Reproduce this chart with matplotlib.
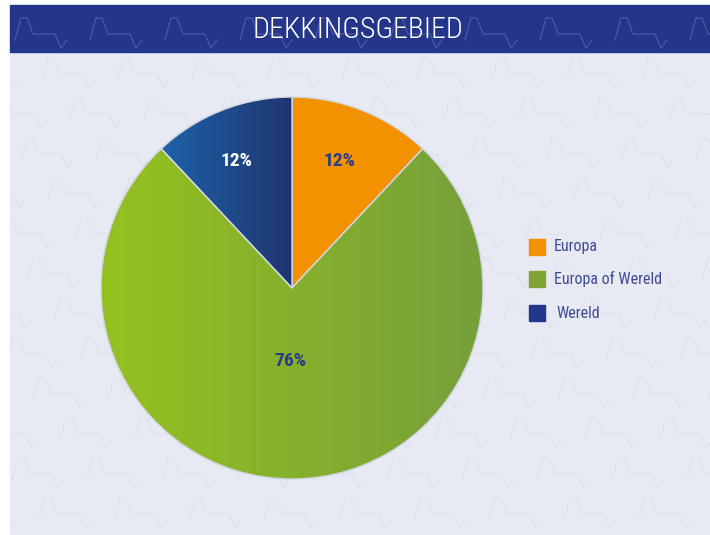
import numpy as np
import matplotlib
matplotlib.use("Agg")
import matplotlib.pyplot as plt
from matplotlib.colors import LinearSegmentedColormap
from matplotlib import font_manager as fm
from matplotlib.patches import Wedge

title = "DEKKINGSGEBIED"
categories = ["Europa", "Europa of Wereld", "Wereld"]
values = [12, 76, 12]
labels = ["12%", "76%", "12%"]

avail = {}
for f in fm.fontManager.ttflist:
    avail.setdefault(f.name, set()).add(f.weight)
prefs = ["Roboto Condensed", "Barlow Semi Condensed", "Asap Condensed",
         "Archivo Narrow", "Liberation Sans Narrow"]
cond = [n for n in prefs if n in avail]
bold_cond = [n for n in cond if any(int(w) >= 700 for w in avail[n] if str(w).isdigit())]
light_cond = [n for n in cond if any(int(w) <= 300 for w in avail[n] if str(w).isdigit())]
font = cond[:1] + ["DejaVu Sans"]
font_b = bold_cond[:1] + ["DejaVu Sans"]
font_l = light_cond[:1] + ["Roboto", "DejaVu Sans"]

W, H = 710, 535
fig = plt.figure(figsize=(W / 100, H / 100), dpi=100)
fig.patch.set_facecolor("white")

bg = fig.add_axes([0, 0, 1, 1])
bg.set_xlim(0, W)
bg.set_ylim(H, 0)
bg.axis("off")
bg.add_patch(plt.Rectangle((10, 52), 700, 483, color="#E8EAF3", zorder=0))
bg.add_patch(plt.Rectangle((10, 5), 700, 47, color="#24368A", zorder=0))

def beat(x0, y0, col, lw, clip):
    xs = np.array([0, 6, 12, 18, 40, 46, 52]) + x0
    ys = np.array([0, -22, -22, -6, -6, 8, 0]) + y0
    ln, = bg.plot(xs, ys, color=col, lw=lw, zorder=1)
    ln.set_clip_path(clip)

clip_panel = plt.Rectangle((10, 52), 700, 483, transform=bg.transData)
clip_head = plt.Rectangle((10, 5), 700, 47, transform=bg.transData)
for row, yy in enumerate(range(40, 560, 40)):
    off = (row * 27) % 75
    for xx in range(-60, 760, 75):
        beat(xx + off, yy, "#DDE0EB", 0.7, clip_panel)
        beat(xx + off, yy, "#4E5CA3", 0.8, clip_head)

bg.text(358, 29.5, title, color="white", fontsize=21.5, ha="center", va="center",
        family=font_l, fontweight="light", zorder=3)

cx, cy, r = 292, 288, 191
ax = fig.add_axes([(cx - r) / W, (H - cy - r) / H, 2 * r / W, 2 * r / H])
ax.set_xlim(-1, 1)
ax.set_ylim(-1, 1)
ax.axis("off")
colors = ["#F39200", "#7EA536", "#24368A"]
wedges, _ = ax.pie(values, colors=colors, startangle=90, counterclock=False,
                   radius=1, wedgeprops=dict(edgecolor="#D3D7E3", linewidth=1.0))

grads = {1: ["#95C11F", "#76A03A"], 2: ["#1D62A8", "#1F3570"]}
grad = np.linspace(0, 1, 256).reshape(1, -1)
for i, (c0, c1) in grads.items():
    cmap = LinearSegmentedColormap.from_list("g%d" % i, [c0, c1])
    verts = wedges[i].get_path().vertices
    xmin, xmax = verts[:, 0].min(), verts[:, 0].max()
    im = ax.imshow(grad, cmap=cmap, extent=[xmin, xmax, -1, 1], aspect="auto",
                   zorder=wedges[i].get_zorder() + 0.1)
    im.set_clip_path(wedges[i])
    ax.add_patch(Wedge(wedges[i].center, wedges[i].r,
                       wedges[i].theta1, wedges[i].theta2, facecolor="none",
                       edgecolor="#D3D7E3", lw=1.0,
                       zorder=wedges[i].get_zorder() + 0.2))
ax.set_xlim(-1, 1)
ax.set_ylim(-1, 1)

label_cols = ["#2A3B87", "#2A3B87", "white"]
pos = [(0.25, 0.665), (-0.01, -0.38), (-0.29, 0.665)]
for (x, y), t, c in zip(pos, labels, label_cols):
    ax.text(x, y, t, color=c, fontsize=14, fontweight="bold", ha="center",
            va="center", family=font_b, zorder=5)

leg_cols = ["#F39200", "#7EA536", "#24368A"]
for k, (name, col) in enumerate(zip(categories, leg_cols)):
    yy = [247, 279, 313][k]
    bg.add_patch(plt.Rectangle((529, yy - 8), 16, 16, color=col, zorder=3))
    bg.text(554 + (2 if k == 2 else 0), yy, name, color="#3F4C93", fontsize=11.5,
            ha="left", va="center", family=font, zorder=3)

fig.savefig("out.png", dpi=100)
